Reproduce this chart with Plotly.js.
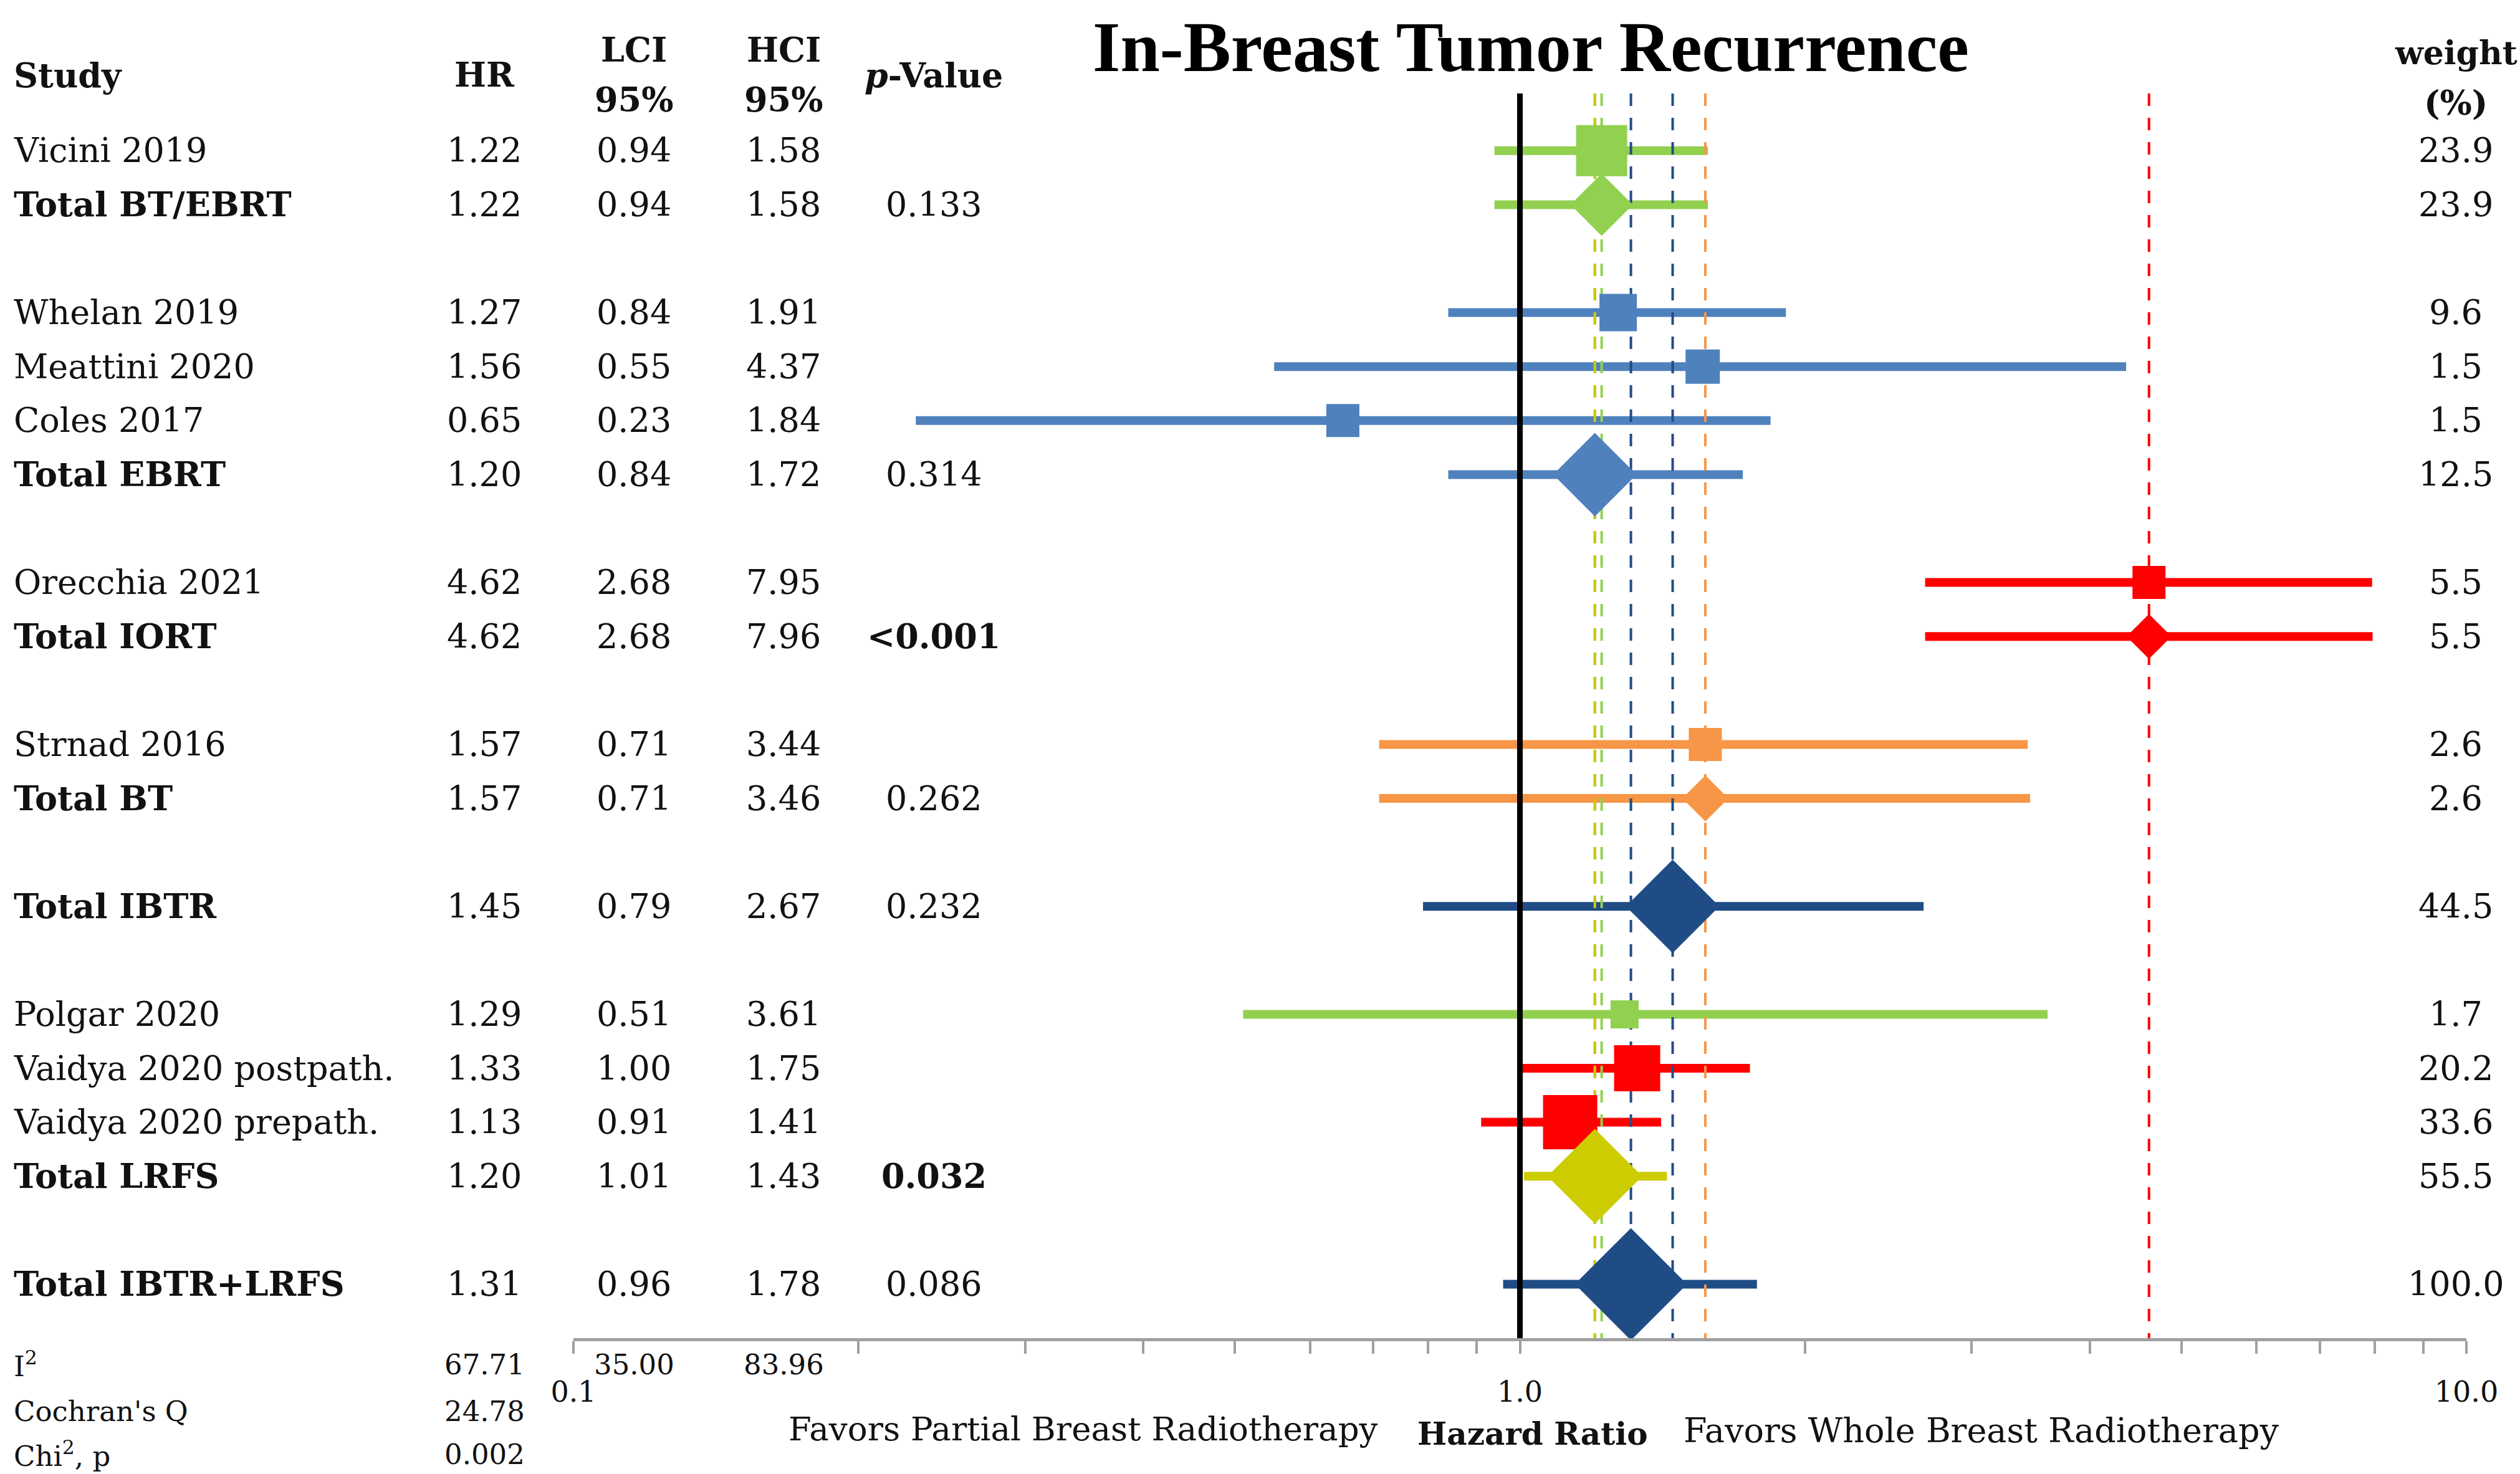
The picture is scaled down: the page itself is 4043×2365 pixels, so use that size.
<!DOCTYPE html>
<html><head><meta charset="utf-8">
<script src="https://cdn.plot.ly/plotly-3.0.1.min.js"></script>
<style>html,body{margin:0;padding:0;background:#fff}</style>
</head><body><div id="chart" style="width:4043px;height:2365px"></div>
<script>
// ---------------- data ----------------
const study = ['Vicini 2019','Total BT/EBRT',null,'Whelan 2019','Meattini 2020','Coles 2017','Total EBRT',null,
  'Orecchia 2021','Total IORT',null,'Strnad 2016','Total BT',null,'Total IBTR',null,
  'Polgar 2020','Vaidya 2020 postpath.','Vaidya 2020 prepath.','Total LRFS',null,'Total IBTR+LRFS'];
const hr  = [1.22,1.22,null,1.27,1.56,0.65,1.20,null,4.62,4.62,null,1.57,1.57,null,1.45,null,1.29,1.33,1.13,1.20,null,1.31];
const lci = [0.94,0.94,null,0.84,0.55,0.23,0.84,null,2.68,2.68,null,0.71,0.71,null,0.79,null,0.51,1.00,0.91,1.01,null,0.96];
const hci = [1.58,1.58,null,1.91,4.37,1.84,1.72,null,7.95,7.96,null,3.44,3.46,null,2.67,null,3.61,1.75,1.41,1.43,null,1.78];
const pValue = ['','0.133',null,'','','','0.314',null,'','<0.001',null,'','0.262',null,'0.232',null,'','','','0.032',null,'0.086'];
const weight = [23.9,23.9,null,9.6,1.5,1.5,12.5,null,5.5,5.5,null,2.6,2.6,null,44.5,null,1.7,20.2,33.6,55.5,null,100.0];
const group = ['BT/EBRT','BT/EBRT',null,'EBRT','EBRT','EBRT','EBRT',null,'IORT','IORT',null,'BT','BT',null,'Overall',null,
  'BT/EBRT','IORT','IORT','LRFS',null,'Overall'];
const statLabels = ['I<sup>2</sup>',"Cochran's Q",'Chi<sup>2</sup>, p'];
const statValues = ['67.71','24.78','0.002'];
const i2Interval = ['35.00','83.96'];
const majorTicks = [0.1,1,10];
const majorTickText = ['0.1','1.0','10.0'];
const minorTicks = [0.2,0.3,0.4,0.5,0.6,0.7,0.8,0.9,2,3,4,5,6,7,8,9];

// ---------------- style ----------------
const groupColor = {'BT/EBRT':'#92D050','EBRT':'#4F81BD','IORT':'#FF0000','BT':'#F79646','Overall':'#204C86','LRFS':'#CCCC00'};
const markerExtent = [82,100,null,60,55,53,134,null,53,72,null,53,74,null,150,null,45,74,87,152,null,180];
const W = 4043, H = 2365;
const PL = 920, PR = 3957, PT = 150, PB = 2147;
const yTop = -1.06, yBottom = 22.0;
const fx = px => (px - PL) / (PR - PL);
const fy = py => (PB - py) / (PB - PT);
const SERIF = 'DejaVu Serif';
const TXT = '#111111';

const rows = study.map((s,i)=>i).filter(i=>study[i]!==null);
const isTotal = i => study[i].startsWith('Total');

const traces = [];
// CI lines
const groups = [...new Set(rows.map(i=>group[i]))];
groups.forEach(g=>{
  const xs=[], ys=[];
  rows.filter(i=>group[i]===g).forEach(i=>{xs.push(lci[i],hci[i],null); ys.push(i,i,null);});
  traces.push({type:'scatter',mode:'lines',x:xs,y:ys,line:{color:groupColor[g],width:14},hoverinfo:'skip',cliponaxis:false});
});
// dashed reference lines at pooled estimates
rows.filter(isTotal).forEach(i=>{
  traces.push({type:'scatter',mode:'lines',x:[hr[i],hr[i]],y:[yTop,yBottom],
    line:{color:groupColor[group[i]],width:4,dash:'20px,19px'},hoverinfo:'skip'});
});
// line of no effect
traces.push({type:'scatter',mode:'lines',x:[1,1],y:[yTop,yBottom],line:{color:'#000000',width:9},hoverinfo:'skip'});
// markers
traces.push({type:'scatter',mode:'markers',x:rows.map(i=>hr[i]),y:rows,
  marker:{symbol:rows.map(i=>isTotal(i)?'diamond':'square'),
          size:rows.map(i=>isTotal(i)?markerExtent[i]/1.3:markerExtent[i]),
          color:rows.map(i=>groupColor[group[i]]),line:{width:0},opacity:1},
  hoverinfo:'skip',cliponaxis:false});

// ---------------- text ----------------
const ann = [];
const add = (text,x,y,opts={}) => ann.push(Object.assign({text,x,y,xref:'paper',yref:'paper',showarrow:false,
  xanchor:'center',yanchor:'middle',font:{family:SERIF,size:54,color:TXT}},opts));
const colX = {study:fx(20), hr:fx(777), lci:fx(1017), hci:fx(1257), p:fx(1498), w:fx(3940)};

// header
add('<b>Study</b>',colX.study,fy(121),{xanchor:'left'});
add('<b>HR</b>',colX.hr,fy(120));
add('<b>LCI</b>',colX.lci,fy(80));
add('<b>95%</b>',colX.lci,fy(160));
add('<b>HCI</b>',colX.hci,fy(80));
add('<b>95%</b>',colX.hci,fy(160));
add('<b><i>p</i>-Value</b>',colX.p,fy(121));
add('<b>weight</b>',colX.w,fy(85),{font:{family:SERIF,size:52,color:TXT}});
add('<b>(%)</b>',colX.w,fy(165),{font:{family:SERIF,size:54,color:TXT}});

// rows
const esc = s => s.replace(/</g,'&lt;');
rows.forEach(i=>{
  const tot = isTotal(i);
  const r = {yref:'y'};
  add(tot?'<b>'+study[i]+'</b>':study[i],colX.study,i,Object.assign({xanchor:'left'},r));
  add(hr[i].toFixed(2),colX.hr,i,r);
  add(lci[i].toFixed(2),colX.lci,i,r);
  add(hci[i].toFixed(2),colX.hci,i,r);
  if(pValue[i]){
    const sig = parseFloat(pValue[i].replace('<',''))<0.05;
    add(sig?'<b>'+esc(pValue[i])+'</b>':esc(pValue[i]),colX.p,i,r);
  }
  add(weight[i].toFixed(1),colX.w,i,r);
});

// heterogeneity statistics
const statY = [2189,2264,2333];
statLabels.forEach((t,k)=>{
  add(t,colX.study,fy(statY[k]),{xanchor:'left',font:{family:SERIF,size:45,color:TXT}});
  add(statValues[k],colX.hr,fy(statY[k]),{font:{family:SERIF,size:45,color:TXT}});
});
add(i2Interval[0],colX.lci,fy(statY[0]),{font:{family:SERIF,size:45,color:TXT}});
add(i2Interval[1],colX.hci,fy(statY[0]),{font:{family:SERIF,size:45,color:TXT}});

// bottom labels
add('Favors Partial Breast Radiotherapy',fx(1738),fy(2292),{font:{family:SERIF,size:53,color:TXT}});
add('<b>Hazard Ratio</b>',fx(2459),fy(2300),{font:{family:SERIF,size:50,color:TXT}});
add('Favors Whole Breast Radiotherapy',fx(3179),fy(2295),{font:{family:SERIF,size:54,color:TXT}});

const layout = {
  width:W, height:H, paper_bgcolor:'#ffffff', plot_bgcolor:'#ffffff', showlegend:false,
  margin:{l:PL, r:W-PR, t:PT, b:H-PB, pad:0},
  title:{text:'<b>In-Breast Tumor Recurrence</b>', font:{family:'Liberation Serif',size:114,color:'#000'},
    x:2456/W, xref:'container', xanchor:'center', y:1-74/H, yref:'container', yanchor:'middle'},
  xaxis:{type:'log', range:[-1,1], tickmode:'array', tickvals:majorTicks, ticktext:majorTickText, ticks:'outside', ticklen:20,
    tickwidth:4, tickcolor:'#A0A0A0', showline:true, linecolor:'#A0A0A0', linewidth:5, showgrid:false,
    minor:{tickmode:'array', tickvals:minorTicks, ticks:'outside', ticklen:20, tickwidth:4, tickcolor:'#A0A0A0', showgrid:false},
    zeroline:false, tickfont:{family:SERIF,size:46,color:TXT}, ticklabelstandoff:22, fixedrange:true},
  yaxis:{range:[yBottom,yTop], visible:false, showgrid:false, zeroline:false, fixedrange:true},
  annotations:ann
};
Plotly.newPlot('chart',traces,layout,{staticPlot:true,displayModeBar:false}).then(gd=>{
  // drop empty placeholder text nodes that Plotly leaves behind
  gd.querySelectorAll('text').forEach(t=>{ if(!t.textContent.trim()) t.remove(); });
});
</script></body></html>
